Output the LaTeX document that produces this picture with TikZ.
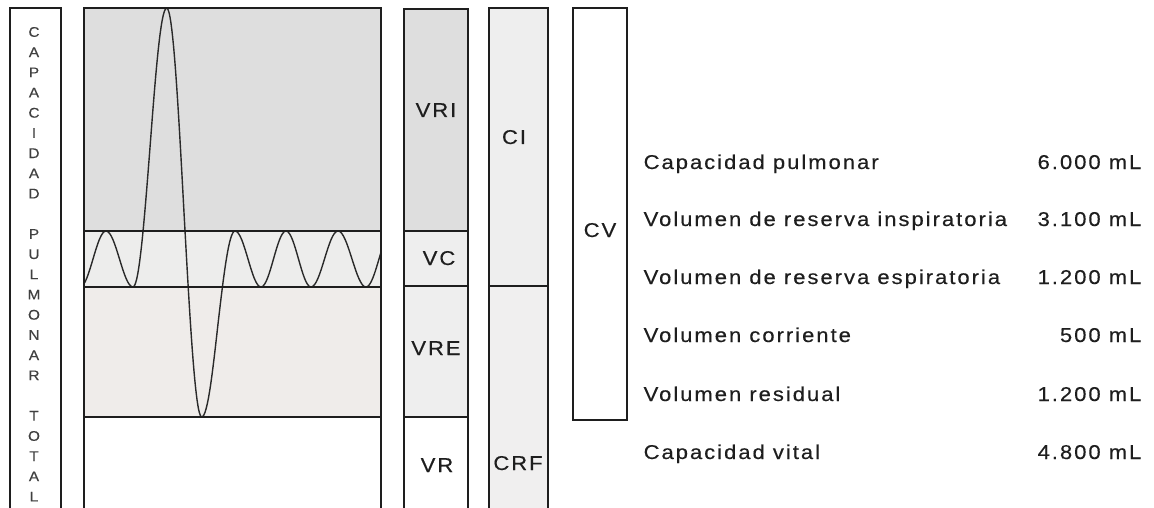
\documentclass[tikz,border=0pt]{standalone}
\usepackage{fontspec}
\setmainfont{Liberation Sans}
\newfontfamily\spaced{Liberation Sans}[LetterSpace=10,FakeStretch=1.1,FakeBold=0.4]
\newfontfamily\widefont{Liberation Sans}[FakeStretch=1.1,FakeBold=0.3]
\definecolor{inkc}{HTML}{1E1E1E}
\definecolor{wavec}{HTML}{2A2A2A}
\definecolor{gtop}{HTML}{DEDEDE}
\definecolor{gmid}{HTML}{EDEDEC}
\definecolor{gwarm}{HTML}{EFECEA}
\definecolor{gcol}{HTML}{EEEEEE}
\definecolor{gcrf}{HTML}{F0EFEF}
\begin{document}
\begin{tikzpicture}[x=1pt,y=-1pt,line width=1.3pt,
  frame/.style={draw=inkc,line width=1.3pt},
  lbl/.style={font=\spaced\fontsize{20}{20}\selectfont,text=inkc,inner sep=0pt},
  vlet/.style={font=\widefont\fontsize{14}{14}\selectfont,text=inkc!85,inner sep=0pt,anchor=center},
  collbl/.style={lbl,anchor=base},
  rowlbl/.style={lbl,anchor=base west},
  vallbl/.style={lbl,anchor=base east},
  wave/.style={draw=wavec,line width=1.4pt}]
\useasboundingbox (0,0) rectangle (1154,508);
% fills
\fill[white] (0,0) rectangle (1154,508);
\fill[gtop] (84,8) rectangle (381,231);
\fill[gmid] (84,231) rectangle (381,287);
\fill[gwarm] (84,287) rectangle (381,417);
\fill[gtop] (404,9) rectangle (468,231);
\fill[gcol] (404,231) rectangle (468,417);
\fill[gcol] (489,8) rectangle (548,286);
\fill[gcrf] (489,286) rectangle (548,508);
% wave
\begin{scope}
\clip (84,0) rectangle (381,508);
\draw[wave] (80,287) cos (93,259) sin (106,231) cos (119.5,259) sin (133,287)
  cos (150,147.5) sin (166.7,8) cos (184,212.5) sin (201.7,417)
  cos (218,324) sin (235,231) cos (248,259) sin (261,287)
  cos (273.5,259) sin (286,231) cos (298.5,259) sin (311,287)
  cos (324.5,259) sin (338,231) cos (352,259) sin (366,287)
  cos (379,259) sin (392,231);
\end{scope}
% left label box
\draw[frame] (10,508) -- (10,8) -- (61,8) -- (61,508);
\foreach \l [count=\i from 0] in {C,A,P,A,C,I,D,A,D,{},P,U,L,M,O,N,A,R,{},T,O,T,A,L}
  \node[vlet] (v\i) at (34,32+20.2*\i) {\l};
% main chart frame
\draw[frame] (84,508) -- (84,8) -- (381,8) -- (381,508);
\draw[frame] (84,231) -- (381,231);
\draw[frame] (84,287) -- (381,287);
\draw[frame] (84,417) -- (381,417);
% column 1
\draw[frame] (404,508) -- (404,9) -- (468,9) -- (468,508);
\draw[frame] (404,231) -- (468,231);
\draw[frame] (404,286) -- (468,286);
\draw[frame] (404,417) -- (468,417);
\node[collbl] (vri) at (436,117) {VRI};
\node[collbl] (vc) at (439,265) {VC};
\node[collbl] (vre) at (436,355) {VRE};
\node[collbl] (vr) at (437,472) {VR};
% column 2
\draw[frame] (489,508) -- (489,8) -- (548,8) -- (548,508);
\draw[frame] (489,286) -- (548,286);
\node[collbl] (ci) at (514,144) {CI};
\node[collbl] (crf) at (518,470) {CRF};
% column 3
\draw[frame] (573,8) rectangle (627,420);
\node[collbl] (cv) at (600,237) {CV};
% table
\node[rowlbl] (r1) at (643,169) {Capacidad pulmonar};
\node[rowlbl] (r2) at (643,226) {Volumen de reserva inspiratoria};
\node[rowlbl] (r3) at (643,284) {Volumen de reserva espiratoria};
\node[rowlbl] (r4) at (643,342) {Volumen corriente};
\node[rowlbl] (r5) at (643,401) {Volumen residual};
\node[rowlbl] (r6) at (643,459) {Capacidad vital};
\node[vallbl] (n1) at (1142,169) {6.000 mL};
\node[vallbl] (n2) at (1142,226) {3.100 mL};
\node[vallbl] (n3) at (1142,284) {1.200 mL};
\node[vallbl] (n4) at (1142,342) {500 mL};
\node[vallbl] (n5) at (1142,401) {1.200 mL};
\node[vallbl] (n6) at (1142,459) {4.800 mL};
\end{tikzpicture}
\end{document}
